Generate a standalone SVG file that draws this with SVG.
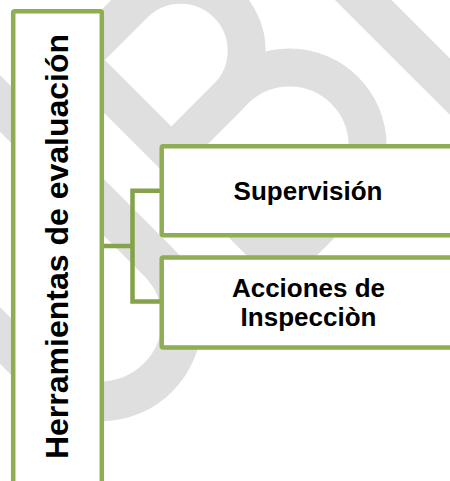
<svg xmlns="http://www.w3.org/2000/svg" width="450" height="481" viewBox="0 0 450 481">
  <style>
    .wm { fill: none; stroke: #dfdfdf; }
    .box { fill: #ffffff; stroke: #8fad52; stroke-width: 4.5; }
    .conn { fill: none; stroke: #84a24a; stroke-width: 4.5; stroke-linejoin: miter; }
    .lbl { font-family: "Liberation Sans", Arial, sans-serif; font-weight: bold; fill: #000000; }
  </style>
  <rect x="0" y="0" width="450" height="481" fill="#ffffff"/>
  <g id="watermark" transform="translate(105,60) rotate(-45)">
    <path class="wm" stroke-width="38" d="M -19,-38 V 288"/>
    <path class="wm" stroke-width="38" d="M -38,-19 H 60 A 66 66 0 0 1 60,113 H -19"/>
    <path class="wm" stroke-width="38" d="M -19,113 H 70 A 78 78 0 0 1 70,269 H -38"/>
    <path class="wm" stroke-width="40" d="M -105,-150 V 180 A 82 82 0 0 1 -269,180 V -150"/>
    <path class="wm" stroke-width="40" d="M 225,-100 V 450"/>
  </g>
  <g id="connectors">
    <path class="conn" d="M 102,246 H 132.5"/>
    <path class="conn" d="M 161,190.8 H 132.5 V 301.5 H 161"/>
  </g>
  <g id="node-herramientas">
    <rect class="box" x="13.2" y="11.2" width="88.6" height="480" rx="1.5"/>
    <text class="lbl" font-size="32" text-anchor="middle" transform="translate(68,246.5) rotate(-90)">Herramientas de evaluación</text>
  </g>
  <g id="node-supervision">
    <rect class="box" x="161.7" y="146.2" width="300" height="89.1" rx="1.5"/>
    <text class="lbl" font-size="26" text-anchor="middle" x="308" y="200">Supervisión</text>
  </g>
  <g id="node-acciones">
    <rect class="box" x="161.7" y="257.5" width="300" height="90" rx="1.5"/>
    <text class="lbl" font-size="26" text-anchor="middle"><tspan x="308.5" y="296.5">Acciones de</tspan><tspan x="308.5" y="326">Inspecciòn</tspan></text>
  </g>
</svg>
